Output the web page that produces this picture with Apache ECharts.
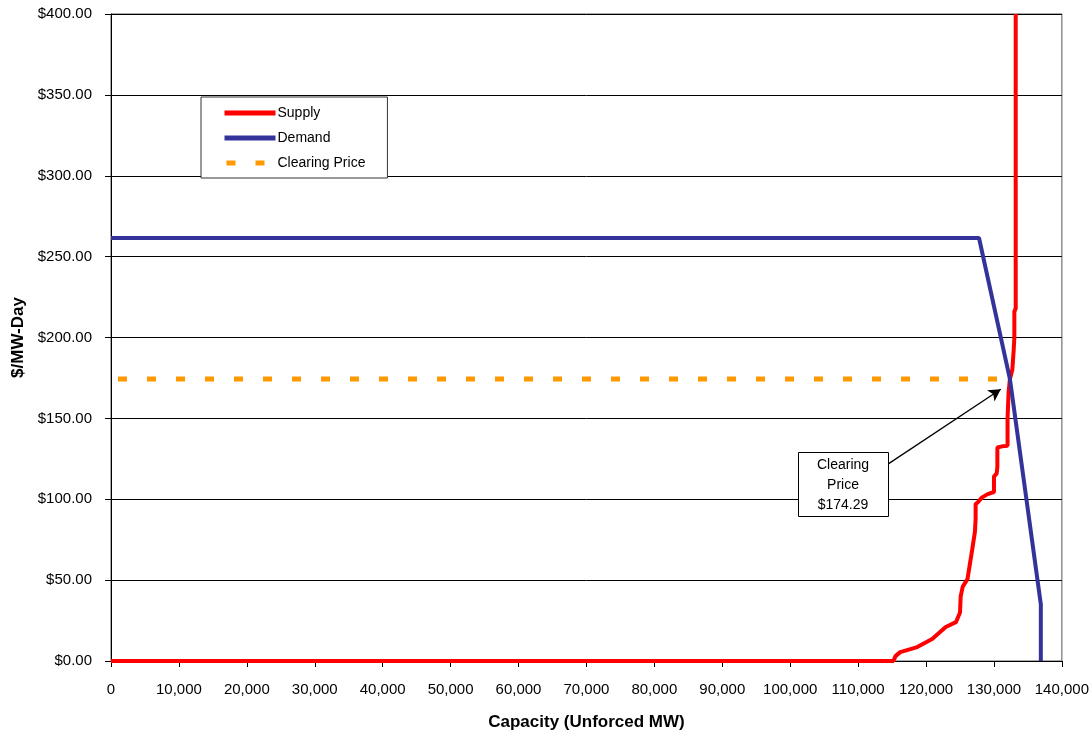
<!DOCTYPE html>
<html>
<head>
<meta charset="utf-8">
<script src="https://cdn.jsdelivr.net/npm/echarts@6/dist/echarts.min.js"></script>
<style>html,body{margin:0;padding:0;background:#fff;}#c{width:1092px;height:736px;}</style>
</head>
<body>
<div id="c"></div>
<script>
// Supply offer curve [capacity MW, price $/MW-day]
var supplyCurve = [[0,0],[115200,0],[115500,3],[116200,5.5],[118700,8.6],[120900,13.6],[122900,21],[124400,24],[125000,30],[125100,40],[125400,46],[126100,50.6],[126800,69],[127200,80],[127300,88],[127300,97],[127600,98],[128200,101],[129000,103],[129600,104],[130000,104.3],[130000,114],[130400,116],[130500,120],[130500,132],[131200,132.7],[132000,133],[132000,150],[132150,166],[132350,174.3],[132700,180],[132900,192],[133000,200],[133000,216],[133200,218],[133200,400]];
// Demand (VRR) curve
var demandCurve = [[0,261.5],[127800,261.5],[132350,174.3],[136900,35],[136900,0]];
// Clearing price line
var clearingPrice = 174.29;
var clearingLine = [[0,clearingPrice],[130700,clearingPrice]];
var xTicks = {min:0, max:140000, interval:10000};
var yTicks = {min:0, max:400, interval:50};
var annotationText = 'Clearing\nPrice\n$174.29';
var arrowFrom = [114500,122];
var arrowTo = [131000,168];

var FONT = '"Liberation Sans", Arial, sans-serif';
var chart = echarts.init(document.getElementById('c'), null, {renderer:'canvas'});
chart.setOption({
  animation:false,
  backgroundColor:'#fff',
  textStyle:{fontFamily:FONT},
  grid:{left:111, right:30, top:14, bottom:74, show:true, borderColor:'#555', borderWidth:1, backgroundColor:'transparent'},
  legend:{
    orient:'vertical', left:201, top:97,
    backgroundColor:'#fff', borderColor:'#333', borderWidth:1,
    padding:[9,22,8,21], itemWidth:51, itemHeight:14, itemGap:11,
    textStyle:{fontFamily:FONT, fontSize:14, color:'#000', padding:[0,0,0,-3]},
    itemStyle:{opacity:0},
    data:[
      {name:'Supply', itemStyle:{opacity:0}, lineStyle:{width:5, color:'#FF0000'}},
      {name:'Demand', itemStyle:{opacity:0}, lineStyle:{width:5, color:'#333399'}},
      {name:'Clearing Price', itemStyle:{opacity:0}, lineStyle:{width:5, color:'#FF9900', type:[9,20], dashOffset:-2}}
    ]
  },
  xAxis:{
    type:'value', min:xTicks.min, max:xTicks.max, interval:xTicks.interval,
    name:'Capacity (Unforced MW)', nameLocation:'middle', nameGap:53,
    nameTextStyle:{fontFamily:FONT, fontSize:17, fontWeight:'bold', color:'#000'},
    axisLine:{show:true, lineStyle:{color:'#000', width:1}},
    axisTick:{show:true, inside:false, length:6, lineStyle:{color:'#000'}},
    axisLabel:{fontFamily:FONT, fontSize:15, color:'#000', margin:21,
      formatter:function(v){return v.toLocaleString('en-US');}},
    splitLine:{show:false}
  },
  yAxis:{
    type:'value', min:yTicks.min, max:yTicks.max, interval:yTicks.interval,
    name:'$/MW-Day', nameLocation:'middle', nameGap:81,
    nameTextStyle:{fontFamily:FONT, fontSize:17, fontWeight:'bold', color:'#000'},
    axisLine:{show:true, lineStyle:{color:'#000', width:1}},
    axisTick:{show:true, inside:false, length:6, lineStyle:{color:'#000'}},
    axisLabel:{fontFamily:FONT, fontSize:15, color:'#000', margin:19,
      formatter:function(v){return '$'+v.toFixed(2);}},
    splitLine:{show:true, lineStyle:{color:'#000', width:1}}
  },
  series:[
    {name:'Supply', type:'line', data:supplyCurve, showSymbol:false, symbol:'none',
     lineStyle:{color:'#FF0000', width:4}, itemStyle:{color:'#FF0000'}, z:2},
    {name:'Demand', type:'line', data:demandCurve, showSymbol:false, symbol:'none',
     lineStyle:{color:'#333399', width:4}, itemStyle:{color:'#333399'}, z:3},
    {name:'Clearing Price', type:'line', data:clearingLine, showSymbol:false, symbol:'none',
     lineStyle:{color:'#FF9900', width:5, type:[9,20], dashOffset:22}, itemStyle:{color:'#FF9900'}, z:1,
     markLine:{silent:true, symbol:['none','arrow'], symbolSize:[10,12],
       lineStyle:{color:'#000', width:1.3, type:'solid'}, label:{show:false},
       data:[[{coord:arrowFrom},{coord:arrowTo}]]}}
  ],
  graphic:[
    {type:'rect', left:798, top:452, z:50, shape:{width:90, height:64},
     style:{fill:'#fff', stroke:'#000', lineWidth:1}},
    {type:'text', x:843, y:455, z:51,
     style:{text:annotationText, fill:'#000', font:'14px '+FONT, align:'center', verticalAlign:'top', lineHeight:20}}
  ]
});
</script>
</body>
</html>
